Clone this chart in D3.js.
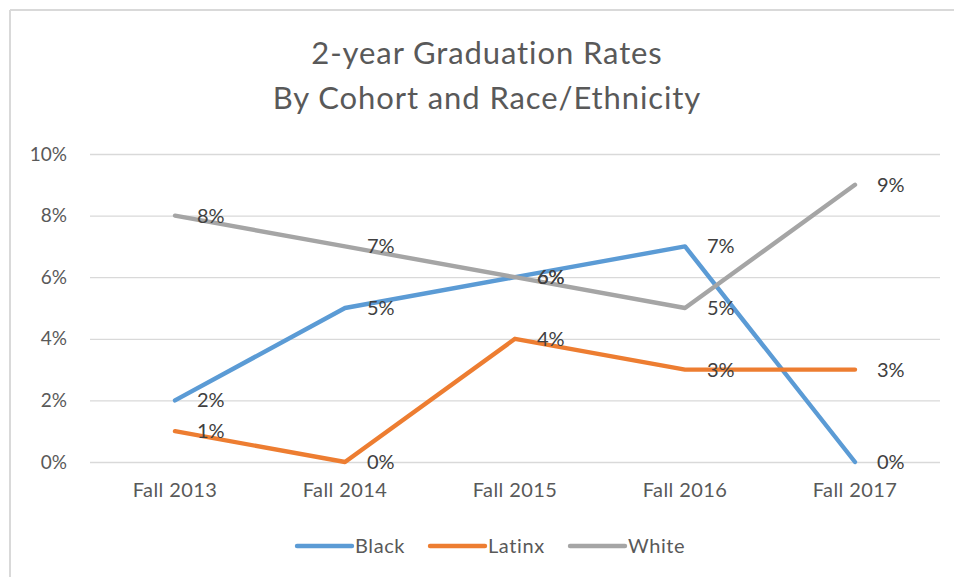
<!DOCTYPE html>
<html><head><meta charset="utf-8">
<script src="https://cdn.jsdelivr.net/npm/d3@7"></script>
<style>body{margin:0;background:#fff;} svg{display:block;}</style>
</head><body>
<svg id="chart" width="954" height="577"></svg>
<script>
const categories = ["Fall 2013","Fall 2014","Fall 2015","Fall 2016","Fall 2017"];
const seriesNames = ["Black","Latinx","White"];
const black  = [0.02,0.05,0.06,0.07,0.00];
const latinx = [0.01,0.00,0.04,0.03,0.03];
const white  = [0.08,0.07,0.06,0.05,0.09];
const yTicks = [0,0.02,0.04,0.06,0.08,0.10];
const titleLines = ["2-year Graduation Rates","By Cohort and Race/Ethnicity"];
const colors = ["#5B9BD5","#ED7D31","#A5A5A5"];

const series = [
  {name: seriesNames[0], values: black,  color: colors[0]},
  {name: seriesNames[1], values: latinx, color: colors[1]},
  {name: seriesNames[2], values: white,  color: colors[2]}
];

const font = "Lato, 'Open Sans', sans-serif";
const svg = d3.select("#chart");
const W = 954, H = 577;
const m = {left: 90, right: 14, top: 154, bottom: 115};

// frame border
svg.append("line").attr("x1",10).attr("x2",W).attr("y1",10).attr("y2",10).attr("stroke","#d9d9d9").attr("stroke-width",2);
svg.append("line").attr("x1",10).attr("x2",10).attr("y1",10).attr("y2",H).attr("stroke","#d9d9d9").attr("stroke-width",2);

const x = d3.scaleBand().domain(categories).range([m.left, W - m.right]);
const y = d3.scaleLinear().domain([0,0.10]).range([H - m.bottom, m.top]);

// title
svg.append("g").selectAll("text").data(titleLines).join("text")
  .attr("x", 487).attr("y", (d,i) => 64 + i*45)
  .attr("text-anchor","middle")
  .attr("font-family", font).attr("font-size", 31).attr("letter-spacing", 0.9).attr("fill","#595959")
  .text(d => d);

// gridlines
const yAxis = d3.axisLeft(y).tickValues(yTicks).tickFormat(d3.format(".0%"))
  .tickSize(-(W - m.right - m.left)).tickPadding(23);
const gy = svg.append("g").attr("transform",`translate(${m.left},0)`).call(yAxis);
gy.select(".domain").remove();
gy.selectAll(".tick line").attr("stroke","#d9d9d9").attr("stroke-width",1.3);
gy.selectAll(".tick text").attr("font-family",font).attr("font-size",19).attr("fill","#595959");

// x axis labels
const xAxis = d3.axisBottom(x).tickSize(0).tickPadding(21);
const gx = svg.append("g").attr("transform",`translate(0,${y(0)})`).call(xAxis);
gx.select(".domain").remove();
gx.selectAll(".tick text").attr("font-family",font).attr("font-size",20).attr("letter-spacing",0.4).attr("fill","#595959");

const cx = d => x(d) + x.bandwidth()/2;
const line = d3.line().x((d,i) => cx(categories[i])).y(d => y(d));

svg.append("g").selectAll("path").data(series).join("path")
  .attr("d", s => line(s.values))
  .attr("fill","none").attr("stroke", s => s.color).attr("stroke-width",4.4)
  .attr("stroke-linejoin","round").attr("stroke-linecap","round");

// data labels
const lg = svg.append("g");
series.forEach(s => {
  lg.selectAll(null).data(s.values).join("text")
    .attr("x",(d,i) => cx(categories[i]) + 22)
    .attr("y", d => y(d))
    .attr("dy","0.35em")
    .attr("font-family",font).attr("font-size",20).attr("fill","#404040")
    .text(d => d3.format(".0%")(d));
});

// legend
const legendX = [297, 430, 570];
const leg = svg.append("g").selectAll("g").data(series).join("g")
  .attr("transform",(d,i) => `translate(${legendX[i]},546)`);
leg.append("line").attr("x1",0).attr("x2",55).attr("y1",0).attr("y2",0)
  .attr("stroke", d => d.color).attr("stroke-width",4.4).attr("stroke-linecap","round");
leg.append("text").attr("x",58).attr("dy","0.35em")
  .attr("font-family",font).attr("font-size",20).attr("letter-spacing",0.6).attr("fill","#595959")
  .text(d => d.name);
</script>
</body></html>
